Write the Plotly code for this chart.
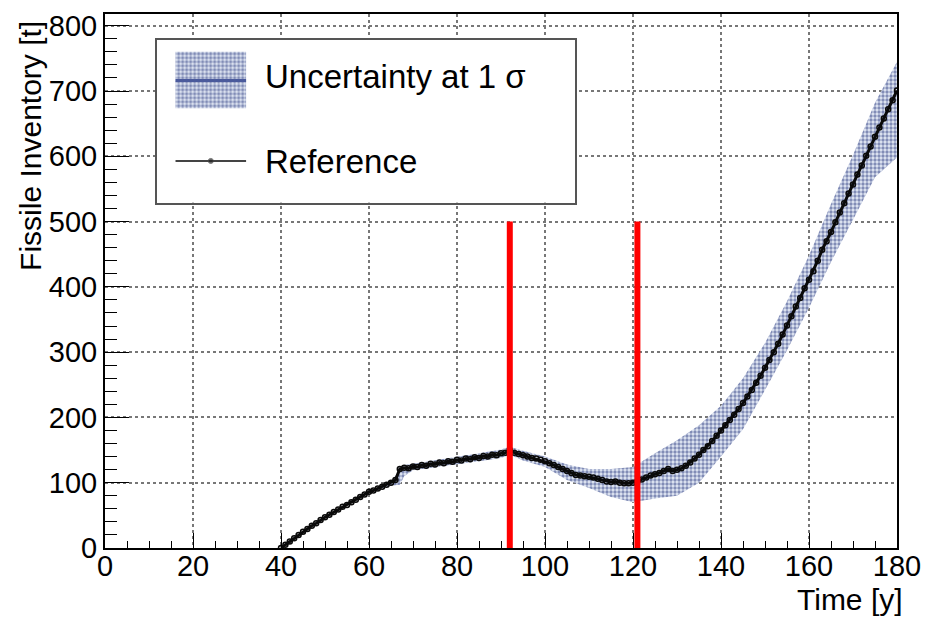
import plotly.graph_objects as go

# ---------------- data ----------------
ref_years = list(range(40, 181))
ref_values = [
    0, 5, 10, 15, 20, 25, 29, 34, 38, 43,            # 40-49
    47, 51, 55, 59, 63, 66, 70, 74, 78, 82,          # 50-59
    86, 88, 91, 94, 97, 100, 104, 121, 123, 122,     # 60-69
    125, 124, 127, 126, 129, 128, 131, 130, 133, 132,  # 70-79
    135, 134, 137, 136, 139, 138, 141, 140, 143, 142,  # 80-89
    145, 146, 150, 146, 144, 142, 140, 138, 137, 135,  # 90-99
    133, 130, 127, 124, 121, 118, 115, 112, 111, 110,  # 100-109
    109, 108, 106, 104, 102, 101, 102, 100, 99, 99,    # 110-119
    100, 102, 105, 108, 111, 113, 115, 118, 121, 118,  # 120-129
    120, 122, 126, 131, 137, 143, 150, 156, 164, 172,  # 130-139
    180, 188, 196, 204, 213, 222, 232, 242, 253, 264,  # 140-149
    276, 288, 300, 313, 327, 341, 355, 370, 383, 398,  # 150-159
    411, 424, 440, 457, 470, 484, 499, 514, 528, 543,  # 160-169
    557, 572, 586, 601, 615, 630, 644, 658, 672, 686,  # 170-179
    701,                                               # 180
]

band_years = [58, 62, 64, 65, 66, 67, 68, 70, 75, 80, 85, 90, 92, 95, 100, 105,
              110, 115, 120, 125, 130, 135, 140, 145, 150, 155, 160, 165, 170,
              175, 180]
band_low = [80, 89, 94, 95, 96, 97, 110, 119, 124, 128, 133, 138, 143, 134, 124,
            104, 92, 78, 70, 76, 80, 100, 140, 182, 242, 303, 368, 438, 503,
            568, 598]
band_high = [80, 92, 98, 103, 110, 124, 127, 129, 134, 139, 145, 151, 155, 149,
             140, 128, 121, 121, 124, 145, 165, 188, 218, 260, 314, 378, 448,
             527, 602, 682, 745]

marker_years = [92, 121]
marker_top = 500

x_ticks = list(range(0, 181, 20))
y_ticks = list(range(0, 801, 100))

legend_labels = ["Uncertainty at 1 \u03c3", "Reference"]

FONT = "Liberation Sans, Arial, Helvetica, sans-serif"
BAND_PATTERN = dict(shape=".", fgcolor="#1f2f78", bgcolor="#e2e8f4",
                    size=4, solidity=0.55)

fig = go.Figure()

# uncertainty band
fig.add_trace(go.Scatter(
    x=band_years + band_years[::-1],
    y=band_high + band_low[::-1],
    fill="toself", mode="lines", line=dict(width=0, color="#3a4a8a"),
    fillpattern=BAND_PATTERN, fillcolor="#e2e8f4",
    showlegend=False, hoverinfo="skip"))

# reference curve
fig.add_trace(go.Scatter(
    x=ref_years, y=ref_values, mode="lines+markers",
    line=dict(color="#0a0a0a", width=3),
    marker=dict(size=5, symbol="circle-open", color="#0a0a0a",
                line=dict(width=1.5, color="#0a0a0a")),
    showlegend=False))

# red vertical markers
for xv in marker_years:
    fig.add_trace(go.Scatter(
        x=[xv, xv], y=[0, marker_top], mode="lines",
        line=dict(color="#ff0000", width=6), showlegend=False))

# ---------------- hand-made legend box (subplot x2/y2) ----------------
sw_x0, sw_x1 = 19, 90
fig.add_trace(go.Scatter(
    x=[sw_x0, sw_x1, sw_x1, sw_x0, sw_x0], y=[95, 95, 152, 152, 95],
    fill="toself", mode="lines", line=dict(width=0),
    fillpattern=BAND_PATTERN, fillcolor="#e2e8f4",
    xaxis="x2", yaxis="y2", showlegend=False, hoverinfo="skip"))
fig.add_trace(go.Scatter(
    x=[sw_x0, sw_x1], y=[123, 123], mode="lines",
    line=dict(color="#4a5a9c", width=3),
    xaxis="x2", yaxis="y2", showlegend=False, hoverinfo="skip"))
fig.add_trace(go.Scatter(
    x=[sw_x0, (sw_x0 + sw_x1) / 2, sw_x1], y=[42, 42, 42], mode="lines+markers",
    line=dict(color="#444444", width=2),
    marker=dict(size=[0, 5, 0], color="#222222"),
    xaxis="x2", yaxis="y2", showlegend=False, hoverinfo="skip"))

for label, ly in zip(legend_labels, [127, 41]):
    fig.add_annotation(x=107, y=ly, xref="x2", yref="y2", text=label,
                       showarrow=False, xanchor="left", yanchor="middle",
                       font=dict(family=FONT, size=33, color="black"))

# axis titles
fig.add_annotation(x=1.01, y=-0.097, xref="paper", yref="paper",
                   text="Time [y]", showarrow=False, xanchor="right",
                   yanchor="middle", font=dict(family=FONT, size=30, color="black"))
fig.add_annotation(x=-0.094, y=0.99, xref="paper", yref="paper",
                   text="Fissile Inventory [t]", textangle=-90, showarrow=False,
                   xanchor="center", yanchor="top",
                   font=dict(family=FONT, size=30, color="black"))

axis_common = dict(showline=True, mirror=True, linecolor="black", linewidth=2,
                   ticks="inside", tickcolor="black", tickwidth=1,
                   showgrid=True, gridcolor="#777777", gridwidth=1.5,
                   griddash="dot", zeroline=False,
                   tickfont=dict(family=FONT, size=29, color="black"))

fig.update_layout(
    width=931, height=618, autosize=False,
    margin=dict(l=105, r=29, t=10, b=70),
    paper_bgcolor="white", plot_bgcolor="white",
    xaxis=dict(range=[0, 180], tickvals=x_ticks, ticklen=15,
               ticklabelstandoff=-9,
               minor=dict(dtick=5, tick0=0, ticklen=7, ticks="inside",
                          tickcolor="black", showgrid=False),
               domain=[0, 1], **axis_common),
    yaxis=dict(range=[0, 818], tickvals=y_ticks, ticklen=24,
               minor=dict(dtick=20, tick0=0, ticklen=12, ticks="inside",
                          tickcolor="black", showgrid=False),
               domain=[0, 1], **axis_common),
    xaxis2=dict(domain=[0.0652, 0.5935], range=[0, 421], showgrid=False,
                zeroline=False, showticklabels=False, ticks="",
                showline=True, mirror=True, linecolor="#555555", linewidth=2,
                anchor="y2", fixedrange=True),
    yaxis2=dict(domain=[0.6468, 0.9517], range=[0, 164], showgrid=False,
                zeroline=False, showticklabels=False, ticks="",
                showline=True, mirror=True, linecolor="#555555", linewidth=2,
                anchor="x2", fixedrange=True),
    showlegend=False,
)

fig.write_html("out.html")
